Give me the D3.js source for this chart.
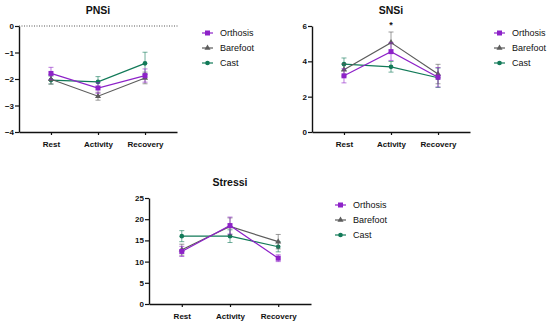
<!DOCTYPE html>
<html><head><meta charset="utf-8">
<script src="https://cdn.jsdelivr.net/npm/d3@7"></script>
<style>body{margin:0;background:#fff}svg{display:block}text{font-family:"Liberation Sans",Arial,sans-serif}</style>
</head><body><svg id="c" width="550" height="326"></svg>
<script>
const categories = ["Rest","Activity","Recovery"];
const seriesNames = ["Orthosis","Barefoot","Cast"];
const colors = ["#8d22c8","#5c5c5c","#127a58"];

const pnsiOrthosis = [-1.79,-2.34,-1.87];
const pnsiBarefoot = [-2.01,-2.65,-1.96];
const pnsiCast     = [-2.04,-2.11,-1.41];
const pnsiErrOrthosis = [0.23,0.2,0.25];
const pnsiErrBarefoot = [0.18,0.15,0.22];
const pnsiErrCast     = [0.15,0.2,0.42];
const pnsiTicks = [0,-1,-2,-3,-4];

const snsiOrthosis = [3.18,4.55,3.10];
const snsiBarefoot = [3.52,5.06,3.28];
const snsiCast     = [3.84,3.69,3.07];
const snsiErrOrthosis = [0.4,0.5,0.55];
const snsiErrBarefoot = [0.35,0.6,0.55];
const snsiErrCast     = [0.35,0.3,0.55];
const snsiTicks = [0,2,4,6];

const stressOrthosis = [12.4,18.5,10.8];
const stressBarefoot = [12.8,18.3,14.7];
const stressCast     = [16.0,16.0,13.5];
const stressErrOrthosis = [1.2,2.0,0.8];
const stressErrBarefoot = [1.3,2.0,1.7];
const stressErrCast     = [1.3,1.5,1.2];
const stressTicks = [0,5,10,15,20,25];

const svg = d3.select("#c");

const panels = [
  {title:"PNSi", vals:[pnsiOrthosis,pnsiBarefoot,pnsiCast], errs:[pnsiErrOrthosis,pnsiErrBarefoot,pnsiErrCast],
   ticks:pnsiTicks, domain:[-4,0], x0:19, x1:177, yTop:26, yBot:132, titleY:14, legX:202, legY:33, zeroLine:true},
  {title:"SNSi", vals:[snsiOrthosis,snsiBarefoot,snsiCast], errs:[snsiErrOrthosis,snsiErrBarefoot,snsiErrCast],
   ticks:snsiTicks, domain:[0,6], x0:312, x1:470, yTop:26, yBot:132, titleY:14, legX:494, legY:33, star:true},
  {title:"Stressi", vals:[stressOrthosis,stressBarefoot,stressCast], errs:[stressErrOrthosis,stressErrBarefoot,stressErrCast],
   ticks:stressTicks, domain:[0,25], x0:149, x1:311, yTop:198, yBot:304, titleY:186, legX:335, legY:205}
];

const symbols = [d3.symbolSquare, d3.symbolTriangle, d3.symbolCircle];
const symSizes = [25, 16, 17];

panels.forEach(p => {
  const g = svg.append("g");
  const x = d3.scalePoint().domain(categories).range([p.x0, p.x1]).padding(0.68);
  const y = d3.scaleLinear().domain(p.domain).range([p.yBot, p.yTop]);

  if (p.zeroLine) {
    g.append("line").attr("x1",p.x0).attr("x2",p.x1+1).attr("y1",y(0)).attr("y2",y(0))
      .attr("stroke","#555").attr("stroke-width",1).attr("stroke-dasharray","1,1.5");
  }

  const yAxis = g.append("g").attr("transform",`translate(${p.x0},0)`)
    .call(d3.axisLeft(y).tickValues(p.ticks).tickSize(4).tickSizeOuter(0).tickFormat(d3.format("d")));
  yAxis.select(".domain").attr("stroke","#111").attr("stroke-width",1.4);
  yAxis.selectAll(".tick line").attr("stroke","#111").attr("stroke-width",1.2);
  yAxis.selectAll("text").attr("font-size",8).attr("font-weight","bold").attr("fill","#111").attr("x",-5);

  const xAxis = g.append("g").attr("transform",`translate(0,${p.yBot})`)
    .call(d3.axisBottom(x).tickSize(3).tickSizeOuter(0));
  xAxis.select(".domain").attr("stroke","#111").attr("stroke-width",1.4);
  xAxis.selectAll(".tick line").attr("stroke","#111").attr("stroke-width",1.2);
  xAxis.selectAll("text").attr("font-size",8).attr("font-weight","bold").attr("fill","#111").attr("y",9);

  g.append("text").attr("x",x("Activity")).attr("y",p.titleY).attr("text-anchor","middle")
    .attr("font-size",10.5).attr("font-weight","bold").attr("fill","#111").text(p.title);

  if (p.star) {
    g.append("text").attr("x",x("Activity")).attr("y",y(6)+2).attr("text-anchor","middle")
      .attr("font-size",9).attr("font-weight","bold").attr("fill","#111").text("*");
  }

  [2,1,0].forEach(si => {
    const vals = p.vals[si], errs = p.errs[si], col = colors[si];
    const eg = g.append("g").attr("stroke",col).attr("stroke-opacity",0.6).attr("stroke-width",1);
    categories.forEach((c,i) => {
      const cx = x(c);
      eg.append("line").attr("x1",cx).attr("x2",cx).attr("y1",y(vals[i]-errs[i])).attr("y2",y(vals[i]+errs[i]));
      eg.append("line").attr("x1",cx-2.5).attr("x2",cx+2.5).attr("y1",y(vals[i]+errs[i])).attr("y2",y(vals[i]+errs[i]));
      eg.append("line").attr("x1",cx-2.5).attr("x2",cx+2.5).attr("y1",y(vals[i]-errs[i])).attr("y2",y(vals[i]-errs[i]));
    });
    const line = d3.line().x((d,i)=>x(categories[i])).y(d=>y(d));
    g.append("path").datum(vals).attr("d",line).attr("fill","none").attr("stroke",col).attr("stroke-width",1.2);
    g.selectAll(null).data(vals).enter().append("path")
      .attr("d", d3.symbol().type(symbols[si]).size(symSizes[si]))
      .attr("transform",(d,i)=>`translate(${x(categories[i])},${y(d)})`)
      .attr("fill",col);
  });

  const lg = g.append("g").attr("transform",`translate(${p.legX},${p.legY})`);
  seriesNames.forEach((n,si) => {
    const row = lg.append("g").attr("transform",`translate(0,${si*15})`);
    row.append("line").attr("x1",0).attr("x2",11).attr("y1",0).attr("y2",0).attr("stroke",colors[si]).attr("stroke-width",1.2);
    row.append("path").attr("d",d3.symbol().type(symbols[si]).size(symSizes[si])).attr("transform","translate(5.5,0)").attr("fill",colors[si]);
    row.append("text").attr("x",18).attr("y",3.3).attr("font-size",9).attr("fill","#111").text(n);
  });
});
</script></body></html>
